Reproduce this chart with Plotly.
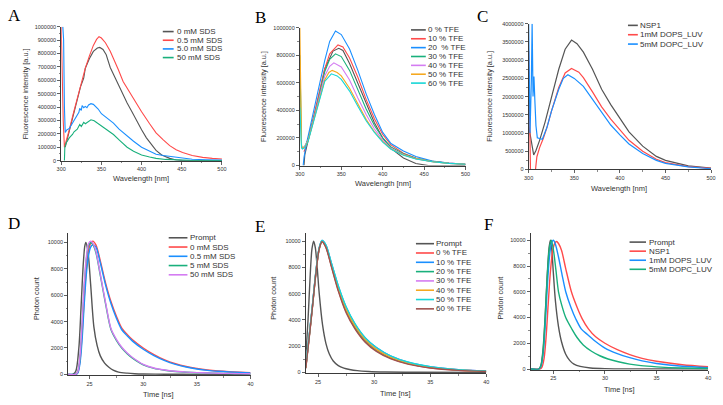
import plotly.graph_objects as go

# ---------------- colours ----------------
GRAY, RED, BLUE, GREEN = "#555555", "#ff4a4a", "#1a8fff", "#19b07c"
VIOLET, ORANGE, CYAN, BROWN = "#d47cf2", "#f5a81f", "#17d6d6", "#a0524f"

# ---------------- Panel A : SDS spectra ----------------
A_names = ["0 mM SDS", "0.5 mM SDS", "5.0 mM SDS", "50 mM SDS"]
A_colors = [GRAY, RED, BLUE, GREEN]
A0_x = [305, 308, 312, 318, 324, 328, 330, 335, 340, 345, 348, 352, 356, 361, 366, 371, 376, 382, 388, 394, 400, 406, 412, 418, 425, 435, 443, 451, 500]
A0_y = [100e3, 170e3, 260e3, 400e3, 550e3, 615e3, 690e3, 760e3, 815e3, 840e3, 845e3, 830e3, 790e3, 695e3, 630e3, 560e3, 495e3, 430e3, 365e3, 295e3, 231e3, 170e3, 120e3, 76e3, 42e3, 17e3, 5e3, 0, 0]
A1_x = [300, 301, 302.5, 304, 306, 310, 315, 320, 325, 330, 335, 340, 344, 347, 350, 355, 361, 366, 371, 377, 383, 390, 400, 410, 418, 427, 435, 443, 451, 463, 476, 488, 500]
A1_y = [1000e3, 700e3, 300e3, 100e3, 140e3, 230e3, 350e3, 470e3, 580e3, 690e3, 780e3, 860e3, 905e3, 925e3, 915e3, 880e3, 816e3, 750e3, 680e3, 590e3, 530e3, 455e3, 365e3, 275e3, 207e3, 155e3, 112e3, 82e3, 60e3, 38e3, 24e3, 17e3, 12e3]
A2_x = [302, 303, 304, 305, 307, 310, 313, 316, 318, 320, 322, 323, 325, 326, 328, 330, 332, 334, 337, 340, 343, 346, 350, 355, 360, 365, 372, 382, 390, 400, 410, 418, 427, 435, 450, 463, 480, 500]
A2_y = [1000e3, 900e3, 400e3, 210e3, 230e3, 240e3, 270e3, 300e3, 320e3, 335e3, 360e3, 390e3, 375e3, 410e3, 395e3, 405e3, 395e3, 415e3, 425e3, 420e3, 405e3, 385e3, 350e3, 325e3, 300e3, 280e3, 235e3, 183e3, 145e3, 100e3, 70e3, 48e3, 38e3, 32e3, 18e3, 10e3, 6e3, 4e3]
A3_x = [304, 304.5, 306, 310, 314, 316, 320, 323, 325, 328, 330, 334, 337, 341, 345, 350, 357, 365, 373, 382, 390, 400, 410, 418, 430, 445, 460, 480, 500]
A3_y = [0, 100e3, 130e3, 170e3, 195e3, 215e3, 235e3, 270e3, 255e3, 285e3, 275e3, 295e3, 305e3, 297e3, 280e3, 255e3, 225e3, 195e3, 150e3, 100e3, 70e3, 42e3, 27e3, 17e3, 9e3, 4e3, 2e3, 1e3, 500]

# ---------------- Panel B : TFE spectra ----------------
B_names = ["0 % TFE", "10 % TFE", "20  % TFE", "30 % TFE", "40 % TFE", "50 % TFE", "60 % TFE"]
B_colors = [GRAY, RED, BLUE, GREEN, VIOLET, ORANGE, CYAN]
B0_x = [305, 306, 310, 320, 330, 340, 347, 352, 360, 370, 380, 390, 400, 410, 425, 440, 455, 470, 500]
B0_y = [0, 80e3, 180e3, 420e3, 700e3, 830e3, 850e3, 835e3, 740e3, 600e3, 450e3, 310e3, 200e3, 125e3, 55e3, 15e3, 0, 0, 0]
B1_x = [305, 308, 312, 320, 330, 336, 346, 352, 360, 370, 380, 390, 400, 410, 425, 440, 460, 480, 500]
B1_y = [100e3, 150e3, 240e3, 440e3, 700e3, 810e3, 875e3, 860e3, 780e3, 640e3, 480e3, 340e3, 225e3, 150e3, 90e3, 55e3, 30e3, 18e3, 10e3]
B2_x = [304, 305, 308, 312, 320, 330, 336, 343, 350, 360, 370, 380, 390, 400, 410, 425, 440, 460, 480, 500]
B2_y = [0, 60e3, 160e3, 270e3, 480e3, 760e3, 900e3, 975e3, 950e3, 845e3, 690e3, 520e3, 370e3, 240e3, 160e3, 105e3, 65e3, 32e3, 18e3, 10e3]
B3_x = [300, 301, 302, 303, 306, 310, 320, 330, 336, 343, 350, 360, 370, 380, 390, 400, 410, 425, 440, 460, 480, 500]
B3_y = [800e3, 400e3, 140e3, 125e3, 140e3, 190e3, 420e3, 680e3, 770e3, 810e3, 790e3, 690e3, 550e3, 410e3, 290e3, 200e3, 135e3, 85e3, 52e3, 30e3, 17e3, 10e3]
B4_x = [302, 303, 306, 310, 320, 330, 336, 341, 350, 360, 370, 380, 390, 400, 410, 425, 440, 460, 480, 500]
B4_y = [140e3, 125e3, 140e3, 185e3, 410e3, 650e3, 720e3, 745e3, 715e3, 620e3, 490e3, 370e3, 265e3, 185e3, 125e3, 80e3, 50e3, 28e3, 16e3, 9e3]
B5_x = [300, 301, 302, 303, 306, 310, 320, 330, 335, 339, 345, 350, 360, 370, 380, 390, 400, 410, 425, 440, 460, 480, 500]
B5_y = [1000e3, 600e3, 150e3, 125e3, 135e3, 180e3, 400e3, 620e3, 675e3, 690e3, 675e3, 650e3, 560e3, 445e3, 335e3, 245e3, 175e3, 120e3, 78e3, 50e3, 28e3, 16e3, 9e3]
B6_x = [300, 301, 302, 303, 306, 310, 320, 330, 338, 345, 350, 360, 370, 380, 390, 400, 410, 425, 440, 460, 480, 500]
B6_y = [420e3, 250e3, 130e3, 120e3, 130e3, 175e3, 395e3, 610e3, 665e3, 650e3, 625e3, 540e3, 430e3, 325e3, 240e3, 170e3, 118e3, 75e3, 48e3, 28e3, 16e3, 10e3]

# ---------------- Panel C : liposome spectra ----------------
C_names = ["NSP1", "1mM DOPS_LUV", "5mM DOPC_LUV"]
C_colors = [GRAY, RED, BLUE]
C0_x = [300, 302, 304, 305.5, 308, 312, 318, 325, 333, 340, 347, 353, 360, 370, 380, 390, 400, 410, 425, 440, 450, 475, 500]
C0_y = [1.2e6, 0.9e6, 0.52e6, 0.4e6, 0.52e6, 0.8e6, 1.3e6, 1.95e6, 2.75e6, 3.3e6, 3.55e6, 3.45e6, 3.22e6, 2.75e6, 2.2e6, 1.78e6, 1.4e6, 1.03e6, 0.64e6, 0.36e6, 0.25e6, 0.1e6, 0.04e6]
C1_x = [300, 301, 302, 303, 307.5, 309, 312, 316, 320, 325, 333, 340, 347, 355, 360, 370, 380, 390, 400, 410, 425, 440, 450, 475, 500]
C1_y = [3.25e6, 1.5e6, 0, 0, 0, 0.35e6, 0.6e6, 0.85e6, 1.15e6, 1.6e6, 2.25e6, 2.65e6, 2.77e6, 2.67e6, 2.52e6, 2.13e6, 1.72e6, 1.38e6, 1.08e6, 0.8e6, 0.5e6, 0.28e6, 0.19e6, 0.08e6, 0.03e6]
C2_x = [300, 300.8, 301.5, 303, 303.8, 304.8, 305.8, 306.8, 308, 309.5, 312, 315, 320, 325, 333, 338, 343, 350, 360, 370, 380, 390, 400, 410, 425, 440, 450, 475, 500]
C2_y = [4.0e6, 2.0e6, 1.0e6, 2.5e6, 4.0e6, 2.0e6, 2.55e6, 1.9e6, 1.2e6, 0.87e6, 0.86e6, 0.83e6, 1.15e6, 1.6e6, 2.2e6, 2.5e6, 2.6e6, 2.5e6, 2.28e6, 1.92e6, 1.55e6, 1.22e6, 0.95e6, 0.7e6, 0.44e6, 0.25e6, 0.17e6, 0.07e6, 0.02e6]

# ---------------- Panel D : SDS decays ----------------
D_names = ["Prompt", "0 mM SDS", "0.5 mM SDS", "5 mM SDS", "50 mM SDS"]
D_colors = [GRAY, RED, BLUE, GREEN, VIOLET]
D0_x = [23.0, 23.4, 23.7, 24.0, 24.2, 24.4, 24.55, 24.65, 24.85, 25.1, 25.4, 25.7, 26.0, 26.4, 26.8, 27.2, 27.7, 28.5, 29.2, 30, 32, 35, 40]
D0_y = [0, 0, 200, 2000, 5000, 8200, 9700, 10000, 9300, 6800, 3600, 2200, 1400, 850, 540, 320, 170, 90, 50, 25, 10, 0, 0]
D_t = [23.0, 23.7, 23.9, 24.1, 24.3, 24.5, 24.7, 24.9, 25.1, 25.3, 25.6, 26.0, 26.5, 27.0, 27.5, 28.0, 28.5, 29.0, 30.0, 31.0, 32.0, 33.0, 34.0, 35.0, 36.0, 37.0, 38.0, 39.0, 40.0]
D1_y = [0, 0, 150, 1000, 3000, 5800, 8000, 9300, 9950, 10100, 9800, 8600, 6900, 5500, 4400, 3500, 3030, 2620, 2000, 1500, 1090, 800, 590, 440, 330, 255, 200, 160, 130]
D2_y = [0, 0, 100, 800, 2600, 5300, 7600, 9000, 9650, 9830, 9650, 8450, 6750, 5350, 4260, 3380, 2920, 2520, 1900, 1420, 1040, 760, 560, 410, 300, 230, 180, 145, 115]
D3_y = [0, 0, 180, 1200, 3600, 6600, 8700, 9750, 9980, 9850, 9200, 7500, 5300, 3380, 2580, 1990, 1570, 1230, 720, 450, 310, 215, 160, 122, 98, 80, 66, 55, 47]
D4_y = [0, 0, 200, 1300, 3800, 6800, 8900, 9900, 10100, 9950, 9300, 7600, 5400, 3450, 2650, 2050, 1620, 1280, 760, 480, 330, 230, 170, 130, 105, 85, 70, 58, 50]

# ---------------- Panel E : TFE decays ----------------
E_names = ["Prompt", "0 % TFE", "10 % TFE", "20 % TFE", "30 % TFE", "40 % TFE", "50 % TFE", "60 % TFE"]
E_colors = [GRAY, RED, BLUE, GREEN, VIOLET, ORANGE, CYAN, BROWN]
E0_x = [23.9, 24.1, 24.3, 24.45, 24.6, 24.75, 24.9, 25.1, 25.4, 25.7, 26.0, 26.35, 26.8, 27.3, 27.8, 28.5, 29.5, 31, 34, 40]
E0_y = [1200, 4000, 7500, 9400, 10000, 9500, 8200, 6000, 3600, 2200, 1400, 870, 520, 330, 230, 140, 80, 40, 15, 5]
E_t = [23.9, 24.2, 24.5, 24.8, 25.1, 25.35, 25.7, 26.2, 26.8, 27.5, 28.3, 29.2, 30.2, 31.5, 33, 35, 37.5, 40]
E1_y = [350, 2650, 5050, 7550, 9420, 9970, 9540, 8060, 6280, 4640, 3380, 2370, 1660, 1080, 670, 360, 172, 86]
E2_y = [450, 2750, 5150, 7650, 9480, 10040, 9680, 8270, 6560, 4960, 3670, 2630, 1890, 1240, 790, 445, 218, 108]
E3_y = [380, 2680, 5080, 7580, 9440, 9990, 9580, 8120, 6360, 4730, 3460, 2450, 1720, 1120, 700, 385, 185, 92]
E4_y = [450, 2750, 5150, 7650, 9480, 10030, 9650, 8220, 6500, 4880, 3600, 2560, 1820, 1200, 760, 420, 205, 100]
E5_y = [400, 2700, 5100, 7600, 9450, 10000, 9600, 8150, 6420, 4800, 3520, 2500, 1760, 1150, 730, 400, 190, 95]
E6_y = [500, 2800, 5200, 7700, 9500, 10050, 9700, 8300, 6600, 5000, 3700, 2650, 1900, 1250, 800, 450, 220, 110]
E7_y = [300, 2600, 5000, 7500, 9400, 9950, 9500, 8000, 6200, 4550, 3300, 2300, 1600, 1030, 640, 340, 160, 80]

# ---------------- Panel F : liposome decays ----------------
F_names = ["Prompt", "NSP1", "1mM DOPS_LUV", "5mM DOPC_LUV"]
F_colors = [GRAY, RED, BLUE, GREEN]
F0_x = [22.8, 23.6, 23.8, 24.0, 24.2, 24.4, 24.6, 24.72, 24.85, 25.0, 25.2, 25.5, 25.8, 26.2, 26.6, 27.0, 27.6, 28.6, 30, 33, 40]
F0_y = [0, 0, 300, 1500, 4000, 7200, 9500, 10000, 9300, 7500, 5300, 3300, 2100, 1150, 650, 380, 200, 80, 30, 10, 0]
F1_x = [22.8, 23.7, 23.9, 24.1, 24.3, 24.5, 24.7, 24.9, 25.1, 25.3, 25.5, 25.8, 26.2, 26.75, 27.3, 27.8, 28.4, 29.1, 30.0, 31.2, 32.4, 33.6, 35.0, 37.5, 40.0]
F1_y = [0, 0, 150, 800, 2500, 5000, 7400, 9000, 9700, 9900, 9750, 9200, 7800, 6000, 4800, 3900, 3120, 2500, 2000, 1500, 1120, 830, 600, 330, 175]
F2_x = [22.8, 23.6, 23.8, 24.0, 24.2, 24.4, 24.6, 24.8, 25.0, 25.2, 25.5, 25.85, 26.2, 26.7, 27.2, 27.7, 28.3, 29.0, 30.0, 31.2, 32.4, 33.6, 35.0, 37.5, 40.0]
F2_y = [0, 0, 200, 1100, 3200, 6200, 8500, 9700, 10000, 9700, 8700, 7300, 6000, 4800, 3850, 3120, 2680, 2200, 1630, 1200, 880, 630, 430, 210, 110]
F3_x = [22.8, 23.6, 23.8, 24.0, 24.2, 24.4, 24.6, 24.8, 25.0, 25.25, 25.5, 25.8, 26.2, 26.8, 27.3, 27.9, 28.7, 29.5, 30.3, 31.3, 32.4, 33.5, 35, 37.5, 40]
F3_y = [0, 0, 250, 1300, 3800, 7000, 9300, 10000, 9300, 7700, 6000, 5000, 4000, 3100, 2450, 1870, 1380, 1030, 780, 560, 380, 260, 170, 80, 40]

# ---------------- assemble ----------------
W, H = 723, 405
def px2x(p): return p / W
def px2y(p): return 1 - p / H

panels = [
    ("A", [(A0_x, A0_y), (A1_x, A1_y), (A2_x, A2_y), (A3_x, A3_y)], A_names, A_colors,
     (57, 220, 24, 160), [300, 500], [0, 1000000], "linear", 1.1),
    ("B", [(B0_x, B0_y), (B1_x, B1_y), (B2_x, B2_y), (B3_x, B3_y), (B4_x, B4_y), (B5_x, B5_y), (B6_x, B6_y)],
     B_names, B_colors, (299, 467, 25, 165), [300, 500], [0, 1000000], "linear", 1.1),
    ("C", [(C0_x, C0_y), (C1_x, C1_y), (C2_x, C2_y)], C_names, C_colors,
     (531, 716, 21, 169), [300, 500], [0, 4000000], "linear", 1.2),
    ("D", [(D0_x, D0_y), (D_t, D1_y), (D_t, D2_y), (D_t, D3_y), (D_t, D4_y)], D_names, D_colors,
     (64, 249, 233, 378), [23, 40], [-80, 10750], "spline", 1.4),
    ("E", [(E0_x, E0_y), (E_t, E1_y), (E_t, E2_y), (E_t, E3_y), (E_t, E4_y), (E_t, E5_y), (E_t, E6_y), (E_t, E7_y)],
     E_names, E_colors, (305, 488, 233, 375.7), [23.9, 40], [-50, 10650], "spline", 1.4),
    ("F", [(F0_x, F0_y), (F1_x, F1_y), (F2_x, F2_y), (F3_x, F3_y)], F_names, F_colors,
     (533, 713, 233, 372.3), [22.8, 40], [-60, 10600], "spline", 1.4),
]

ytick_cfg = {
    "A": dict(dtick=100000, minor_dtick=50000),
    "B": dict(dtick=200000, minor_dtick=100000),
    "C": dict(dtick=500000, minor_dtick=250000),
    "D": dict(dtick=2000, minor_dtick=1000),
    "E": dict(dtick=2000, minor_dtick=1000),
    "F": dict(dtick=2000, minor_dtick=1000),
}
xtick_cfg = {
    "A": dict(dtick=50, minor_dtick=25, tick0=300),
    "B": dict(dtick=50, minor_dtick=25, tick0=300),
    "C": dict(dtick=50, minor_dtick=25, tick0=300),
    "D": dict(dtick=5, minor_dtick=2.5, tick0=25),
    "E": dict(dtick=5, minor_dtick=2.5, tick0=25),
    "F": dict(dtick=5, minor_dtick=2.5, tick0=25),
}

legend_px = {
    "A": (160, 171, 173, 29, 8.8),
    "B": (411.7, 426.7, 428.3, 27.3, 9.0),
    "C": (631.7, 641.7, 643, 22.7, 9.5),
    "D": (166, 185, 187, 238.3, 9.4),
    "E": (416.7, 435, 436.5, 244.3, 9.45),
    "F": (633.3, 650, 652, 242.7, 9.2),
}
xtitle_px = {"A": (138, 178), "B": (383, 183), "C": (623, 188), "D": (156, 397), "E": (396, 396), "F": (623, 392)}
ytitle_px = {"A": (21, 92), "B": (262, 95), "C": (491, 95), "D": (32, 300), "E": (272, 300), "F": (502, 300)}
letter_px = {"A": (2, 2), "B": (252, 4), "C": (478, 3), "D": (2, 213), "E": (252, 216), "F": (485, 214)}
xtitles = {"A": "Wavelength [nm]", "B": "Wavelength [nm]", "C": "Wavelength [nm]",
           "D": "Time [ns]", "E": "Time [ns]", "F": "Time [ns]"}
ytitles = {"A": "Fluorescence intensity [a.u.]", "B": "Fluorescence intensity [a.u.]",
           "C": "Fluorescence intensity [a.u.]", "D": "Photon count", "E": "Photon count", "F": "Photon count"}

fig = go.Figure()
layout = dict(width=W, height=H, margin=dict(l=0, r=0, t=0, b=0),
              paper_bgcolor="white", plot_bgcolor="white", showlegend=False,
              font=dict(family="Liberation Sans, Arial, sans-serif", color="#333"))
annotations, shapes = [], []
AX = "#3a3a3a"
FONT = "Liberation Sans, Arial, sans-serif"

for i, (key, series, names, colors, dom, xr, yr, shape, lw) in enumerate(panels):
    n = "" if i == 0 else str(i + 1)
    x0, x1, yt, yb = dom
    for (xs, ys), nm, col in zip(series, names, colors):
        fig.add_trace(go.Scatter(x=xs, y=ys, name=nm, mode="lines",
                                 line=dict(color=col, width=lw, shape=shape, smoothing=0.8),
                                 xaxis="x" + n, yaxis="y" + n, hoverinfo="skip"))
    xc, yc = xtick_cfg[key], ytick_cfg[key]
    layout["xaxis" + n] = dict(domain=[px2x(x0), px2x(x1)], range=xr, anchor="y" + n,
                               showline=True, linecolor=AX, linewidth=1, ticks="outside",
                               ticklen=3, tickwidth=0.8, tickcolor=AX, tick0=xc["tick0"], dtick=xc["dtick"],
                               minor=dict(ticks="outside", ticklen=1.6, tickwidth=0.6, tickcolor=AX, dtick=xc["minor_dtick"]),
                               showgrid=False, zeroline=False, tickfont=dict(size=5.5, color="#333", family=FONT))
    layout["yaxis" + n] = dict(domain=[px2y(yb), px2y(yt)], range=yr, anchor="x" + n,
                               showline=True, linecolor=AX, linewidth=1, ticks="outside",
                               ticklen=3, tickwidth=0.8, tickcolor=AX, tick0=0, dtick=yc["dtick"],
                               minor=dict(ticks="outside", ticklen=1.6, tickwidth=0.6, tickcolor=AX, dtick=yc["minor_dtick"]),
                               tickformat="d", showgrid=False, zeroline=False,
                               tickfont=dict(size=5.5, color="#333", family=FONT))
    lx0, lx1, tx, ly, step = legend_px[key]
    for j, (nm, col) in enumerate(zip(names, colors)):
        yy = ly + j * step
        shapes.append(dict(type="line", xref="paper", yref="paper", x0=px2x(lx0), x1=px2x(lx1),
                           y0=px2y(yy), y1=px2y(yy), line=dict(color=col, width=1.6)))
        annotations.append(dict(text=nm, xref="paper", yref="paper", x=px2x(tx), y=px2y(yy),
                                xanchor="left", yanchor="middle", showarrow=False, borderpad=0,
                                font=dict(size=8, color="#333", family=FONT)))
    ax_, ay_ = xtitle_px[key]
    annotations.append(dict(text=xtitles[key], xref="paper", yref="paper", x=px2x(ax_), y=px2y(ay_),
                            xanchor="center", yanchor="middle", showarrow=False, borderpad=0,
                            font=dict(size=7.5, color="#333", family=FONT)))
    bx_, by_ = ytitle_px[key]
    annotations.append(dict(text=ytitles[key], xref="paper", yref="paper", x=px2x(bx_), y=px2y(by_),
                            xanchor="center", yanchor="middle", showarrow=False, textangle=-90, borderpad=0,
                            font=dict(size=7.3, color="#333", family=FONT)))
    lxp, lyp = letter_px[key]
    annotations.append(dict(text=key, xref="paper", yref="paper", x=px2x(lxp), y=px2y(lyp),
                            xanchor="left", yanchor="top", showarrow=False, borderpad=0,
                            font=dict(size=17, color="black", family="Liberation Serif, Times New Roman, serif")))

layout["annotations"] = annotations
layout["shapes"] = shapes
fig.update_layout(**layout)
fig.write_html("out.html", config={"displayModeBar": False, "staticPlot": True},
               post_script="document.body.style.margin='0';document.body.style.overflow='hidden';")
